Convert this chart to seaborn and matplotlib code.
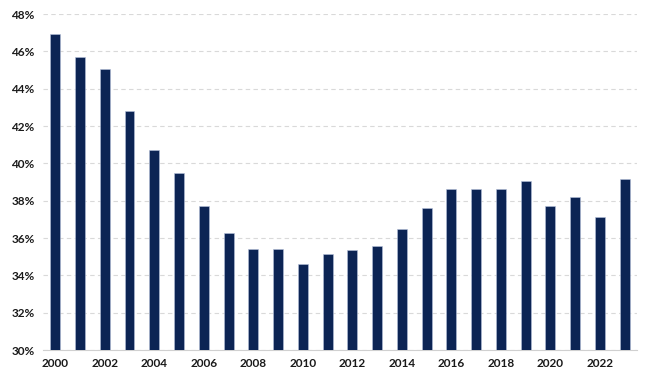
import numpy as np
import pandas as pd
import matplotlib.pyplot as plt
import seaborn as sns
from matplotlib.ticker import FixedLocator, PercentFormatter

# dados (percentual por ano)
anos = list(range(2000, 2024))
valores = [46.95, 45.7, 45.05, 42.8, 40.7, 39.5, 37.7, 36.3, 35.4, 35.4,
           34.6, 35.15, 35.35, 35.6, 36.5, 37.6, 38.65, 38.65, 38.62, 39.08,
           37.72, 38.2, 37.15, 39.15]
rotulos_x = [str(a) if a % 2 == 0 else '' for a in anos]

sns.set_style("white")
plt.rcParams['font.family'] = ['Lato', 'DejaVu Sans']

df = pd.DataFrame({'Ano': [str(a) for a in anos], 'Valor': valores})

fig, ax = plt.subplots(figsize=(6.5, 3.83), dpi=100)
fig.subplots_adjust(left=0.066, right=0.98, top=0.963, bottom=0.086)

sns.barplot(data=df, x='Ano', y='Valor', color='#002060', width=0.4,
            edgecolor='#B4C0DA', linewidth=0.4, ax=ax, zorder=3)

ax.set_ylim(30, 48)
ax.set_yticks(np.arange(30, 49, 2))
ax.yaxis.set_major_formatter(PercentFormatter(decimals=0))
ax.set_xlim(-0.5, len(anos) - 0.5)
ax.set_xticks(range(len(anos)))
ax.set_xticklabels(rotulos_x)
ax.xaxis.set_minor_locator(FixedLocator(np.arange(-0.5, len(anos), 2)))
ax.tick_params(axis='x', which='major', length=0, pad=6)
ax.tick_params(axis='x', which='minor', length=4, color='#D0D0D0', width=0.8)
ax.tick_params(axis='y', length=0, pad=6)
for lbl in ax.get_xticklabels() + ax.get_yticklabels():
    lbl.set_fontsize(8.5)
    lbl.set_fontweight('bold')
    lbl.set_color('#1a1a1a')

ax.grid(axis='y', linestyle=(0, (4, 3)), color='#D9D9D9', linewidth=0.8, zorder=0)
ax.set_xlabel('')
ax.set_ylabel('')
for s in ['top', 'right', 'left']:
    ax.spines[s].set_visible(False)
ax.spines['bottom'].set_color('#D0D0D0')
ax.spines['bottom'].set_linewidth(0.8)

plt.savefig('out.png', dpi=100)
